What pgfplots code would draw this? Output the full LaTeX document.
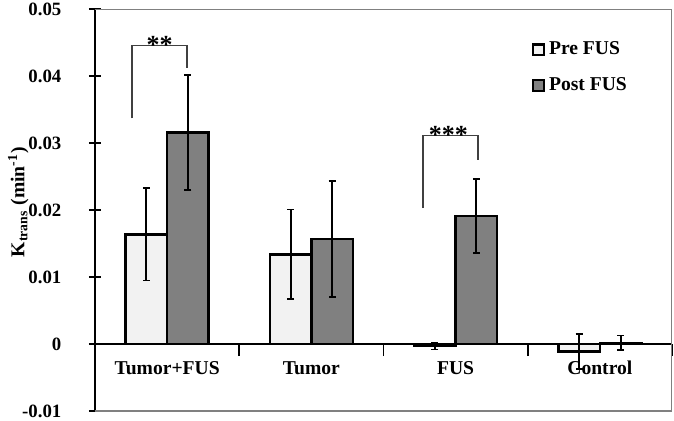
\documentclass[border=0pt]{standalone}
\usepackage{pgfplots}
\pgfplotsset{compat=1.18}
\usepackage{fontspec}
\setmainfont{Liberation Serif}
\definecolor{prefill}{HTML}{F2F2F2}
\definecolor{postfill}{HTML}{808080}
\newcommand{\cf}{\bfseries\fontsize{9.8}{11}\selectfont}
\newcommand{\tf}{\bfseries\fontsize{9.4}{11}\selectfont}

\begin{document}
\begin{tikzpicture}
    \begin{axis}[
            ,width          = 288.5pt
            ,height         = 201pt
            ,scale only axis
            ,xmin = -0.5, xmax = 3.5
            ,ymin = -0.01, ymax = 0.05
            ,axis x line    = middle
            ,axis y line    = left
            ,axis line style = {-}
            ,x axis line style = {black, line width=0.8pt}
            ,y axis line style = {black, line width=1pt}
            ,hide obscured x ticks = false
            ,hide obscured y ticks = false
            ,scaled y ticks = false
            ,xtick          = {0.5,1.5,2.5,3.5}
            ,xticklabels    = {,,,}
            ,extra x ticks  = {0,1,2,3}
            ,extra x tick labels = {Tumor+FUS,Tumor,FUS,Control}
            ,extra x tick style = {tick style={draw=none}}
            ,ytick          = {-0.01,0,0.01,0.02,0.03,0.04,0.05}
            ,yticklabels    = {-0.01,0,0.01,0.02,0.03,0.04,0.05}
            ,tick align     = center
            ,major tick length = 6pt
            ,tick style     = {black, line width=0.8pt}
            ,tick label style = {font=\cf, inner sep=1pt}
            ,yticklabel style = {font=\tf, xshift=-12.6pt}
            ,xticklabel style = {yshift=-1.3pt}
            ,ylabel         = {K\textsubscript{trans} (min\textsuperscript{-1})}
            ,ylabel style   = {font=\cf, at={(axis description cs:-0.133,0.52)}, anchor=center}
            ,ybar
            ,bar width      = 0.288
            ,legend image code/.code={\draw[#1, line width=1.2pt] (0pt,-2.7pt) rectangle (5.4pt,2.7pt);}
            ,legend style   = {draw=none, fill=none, at={(rel axis cs:0.746,0.94)}, anchor=north west,
                               font=\cf, row sep=6pt, legend cell align=left}
            ]
        \addplot [bar shift=-0.144, fill=prefill, draw=black, line width=1.2pt,
                  error bars/.cd, y dir=both, y explicit, error mark=-,
                  error bar style={draw=black, line width=0.9pt},
                  error mark options={rotate=90, draw=black, line width=0.9pt, mark size=1.7pt}]
            coordinates {(0,0.0164) +- (0,0.0069)
                         (1,0.0134) +- (0,0.0067)
                         (2,-0.0003) +- (0,0.0005)
                         (3,-0.0011) +- (0,0.0026)};
        \addlegendentry{Pre FUS}
        \addplot [bar shift=0.144, fill=postfill, draw=black, line width=1.2pt,
                  error bars/.cd, y dir=both, y explicit, error mark=-,
                  error bar style={draw=black, line width=0.9pt},
                  error mark options={rotate=90, draw=black, line width=0.9pt, mark size=1.7pt}]
            coordinates {(0,0.0316) +- (0,0.0086)
                         (1,0.0157) +- (0,0.0087)
                         (2,0.0191) +- (0,0.0055)
                         (3,0.0002) +- (0,0.0011)};
        \addlegendentry{Post FUS}

        % plot frame
        \draw [gray, line width=0.8pt] (rel axis cs:0,1) -- (rel axis cs:1,1) -- (rel axis cs:1,0) -- (rel axis cs:0,0);

        % significance brackets
        \draw [black!75, line width=0.6pt] (-0.243,0.0337) -- (-0.243,0.0446) -- (0.138,0.0446) -- (0.138,0.0412);
        \node [font=\bfseries\fontsize{13}{13}\selectfont, anchor=south, inner sep=0pt, yshift=-4.3pt] at (-0.052,0.0446) {**};
        \draw [black!75, line width=0.6pt] (1.774,0.0203) -- (1.774,0.0312) -- (2.155,0.0312) -- (2.155,0.0275);
        \node [font=\bfseries\fontsize{13}{13}\selectfont, anchor=south, inner sep=0pt, yshift=-4.3pt] at (1.950,0.0312) {***};

        \coordinate (sw) at (rel axis cs:0,0);
        \coordinate (ne) at (rel axis cs:1,1);
    \end{axis}
    \pgfresetboundingbox
    \path ([shift={(-47.5pt,-4.8pt)}]sw) rectangle ([shift={(1pt,4.6pt)}]ne);
\end{tikzpicture}
\end{document}
